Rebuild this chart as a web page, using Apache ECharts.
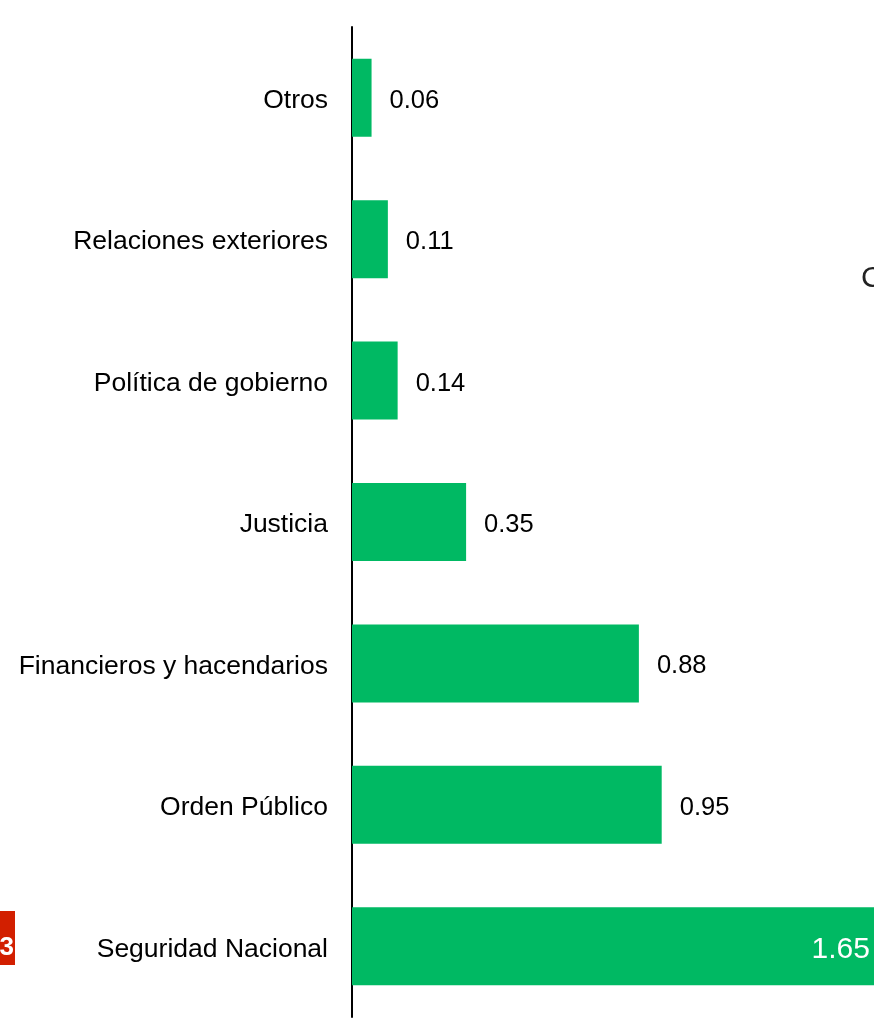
<!DOCTYPE html>
<html>
<head>
<meta charset="utf-8">
<script src="https://cdn.jsdelivr.net/npm/echarts@6/dist/echarts.min.js"></script>
<style>
  html, body { margin: 0; padding: 0; background: #fff; overflow: hidden; }
  #chart { position: absolute; left: 0; top: 0; width: 1004px; height: 1021px; }
</style>
</head>
<body>
<div id="chart"></div>
<script>
// categories, bottom to top
const categories = [
  'Seguridad Nacional',
  'Orden Público',
  'Financieros y hacendarios',
  'Justicia',
  'Política de gobierno',
  'Relaciones exteriores',
  'Otros'
];
const values = [1.65, 0.95, 0.88, 0.35, 0.14, 0.11, 0.06];

const FONT = "'Liberation Sans', Arial, sans-serif";
const chart = echarts.init(document.getElementById('chart'));

const seriesData = values.map((v, i) => {
  if (i === 0) {
    return {
      value: v,
      label: {
        position: 'insideRight',
        distance: 20,
        color: '#fff',
        fontSize: 30
      }
    };
  }
  return v;
});

chart.setOption({
  animation: false,
  grid: { left: 352, right: 0, top: 27, bottom: 4 },
  xAxis: {
    type: 'value',
    min: 0,
    max: 2,
    show: false
  },
  yAxis: {
    type: 'category',
    data: categories,
    axisLine: { show: true, lineStyle: { color: '#000', width: 2 } },
    axisTick: { show: false },
    axisLabel: {
      margin: 24,
      formatter: v => '{a|' + v + '}',
      rich: {
        a: {
          fontSize: 26.5,
          color: '#000',
          fontFamily: FONT,
          padding: [6, 0, 0, 0]
        }
      }
    }
  },
  series: [{
    type: 'bar',
    data: seriesData,
    barWidth: 78,
    itemStyle: { color: '#00b963' },
    label: {
      show: true,
      position: 'right',
      distance: 18,
      offset: [0, 3],
      fontSize: 25.5,
      color: '#000',
      fontFamily: FONT,
      formatter: p => p.value.toFixed(2)
    }
  }],
  graphic: [
    // cut-off text at right edge of the slide
    {
      type: 'text', left: 861, top: 264,
      style: { text: 'C', fontSize: 30, fill: '#222', fontFamily: FONT }
    },
    // page number tab at left edge
    {
      type: 'rect', shape: { x: 0, y: 911, width: 15, height: 54 },
      style: { fill: '#d21f00' }
    },
    {
      type: 'text', x: 14, y: 948,
      style: {
        text: '3', fontSize: 26, fontWeight: 'bold', fill: '#fff',
        align: 'right', verticalAlign: 'middle',
        fontFamily: FONT
      }
    }
  ]
});
</script>
</body>
</html>
